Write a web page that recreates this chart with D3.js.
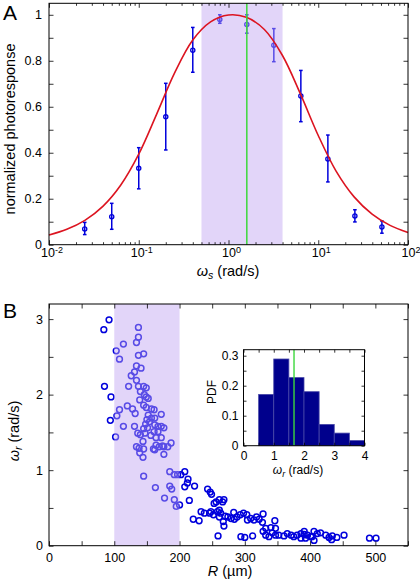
<!DOCTYPE html>
<html><head><meta charset="utf-8">
<script src="https://cdn.jsdelivr.net/npm/d3@7"></script>
<style>body{margin:0;background:#fff}svg{display:block}</style>
</head><body>
<svg id="c" width="420" height="584"></svg>
<script>
// ---------- Panel A data ----------
const omegaS = [0.025,0.05,0.1,0.2,0.4,0.8,1.6,3.2,6.4,12.8,25.6,51.2];
const respMean = [0.068,0.122,0.332,0.556,0.846,0.980,0.958,0.868,0.647,0.373,0.125,0.077];
const respLow  = [0.044,0.067,0.243,0.412,0.750,0.963,0.920,0.796,0.535,0.273,0.099,0.050];
const respHigh = [0.097,0.180,0.422,0.702,0.945,1.000,1.000,0.940,0.758,0.477,0.152,0.103];
const fitOmega = [0.01,0.0158,0.0251,0.0398,0.0631,0.1,0.158,0.251,0.398,0.631,1,1.58,2.51,3.98,6.31,10,15.8,25.1,39.8,63.1,100];
const fitResp  = [0.042,0.067,0.106,0.167,0.260,0.394,0.567,0.747,0.889,0.969,0.999,0.989,0.936,0.824,0.657,0.475,0.320,0.208,0.133,0.084,0.053];
const bandA = [0.5, 4];
const omegaLine = 1.6;
const xTickExpA = [-2,-1,0,1,2];

// ---------- Panel B data ----------
const radiusR = [84,92,85,95,94,
137,137,134,114,103,108,137,145,134,141,131,126,134,122,137,145,149,140,146,149,139,152,145,149,157,161,120,128,132,108,104,172,152,157,162,154,148,145,151,162,167,172,176,114,131,136,140,147,161,167,102,164,172,144,187,182,164,169,176,162,134,138,139,176,144,160,174,145,145,185,192,197,163,185,188,177,192,195,200,150,156,
202,208,213,212,208,223,215,243,247,249,221,230,233,238,246,248,253,256,261,266,268,252,258,263,270,274,261,261,267,268,259,279,284,288,293,298,303,304,309,314,318,322,328,294,300,312,332,328,332,337,342,347,346,340,347,352,360,365,371,375,380,386,391,396,401,391,406,411,416,424,429,433,434,441,452,491,501,386,393,403,406,283,327];
const omegaR = [2.86,2.99,2.11,1.97,1.66,
2.89,2.76,2.69,2.67,2.58,2.47,2.52,2.54,2.38,2.35,2.30,2.25,2.19,2.11,2.11,2.11,2.09,2.04,2.00,1.97,1.93,1.95,1.86,1.83,1.81,1.80,1.85,1.81,1.75,1.80,1.72,1.74,1.73,1.69,1.69,1.64,1.61,1.55,1.56,1.60,1.58,1.58,1.56,1.58,1.58,1.49,1.47,1.49,1.51,1.51,1.44,1.43,1.43,1.38,1.36,1.31,1.33,1.31,1.31,1.27,1.31,1.29,1.23,1.21,1.17,1.28,1.32,1.28,0.92,0.98,0.94,0.94,0.77,0.79,0.75,0.63,0.61,0.52,0.54,1.67,1.46,
0.94,0.98,0.88,0.83,0.78,0.79,0.60,0.75,0.71,0.68,0.35,0.33,0.45,0.43,0.43,0.45,0.56,0.58,0.61,0.58,0.61,0.41,0.45,0.43,0.39,0.38,0.47,0.38,0.32,0.26,0.13,0.36,0.35,0.38,0.41,0.43,0.41,0.34,0.36,0.34,0.38,0.35,0.42,0.12,0.11,0.13,0.23,0.19,0.14,0.12,0.17,0.14,0.33,0.24,0.23,0.14,0.13,0.16,0.14,0.12,0.14,0.16,0.15,0.14,0.12,0.19,0.19,0.16,0.17,0.14,0.11,0.08,0.13,0.11,0.14,0.10,0.10,0.10,0.10,0.12,0.07,0.44,0.31];
const bandB = [100, 200];

// ---------- Inset data ----------
const binStart = [0.5,1.0,1.5,2.0,2.5,3.0,3.5];
const binWidth = 0.5;
const pdfVals = [0.171,0.289,0.227,0.180,0.071,0.042,0.017];
const meanOmegaR = 1.67;

// ---------- Styles ----------
const FONT = '"Liberation Sans", Arial, Helvetica, sans-serif';
const BLUE = "#0000dc";
const SHADE = "rgb(192,164,241)";
const SHADE_OP = 0.46;
const RED = "#dc1420";
const GREEN = "#3cd83c";

const svg = d3.select("#c").attr("font-family", FONT);

function styleAxis(g, fs) {
  g.select(".domain").remove();
  g.selectAll(".tick line").attr("stroke", "#000").attr("stroke-width", 0.8);
  g.selectAll(".tick text").attr("font-family", FONT).attr("font-size", fs).attr("fill", "#000");
}
function frame(g, x0, x1, y0, y1) {
  g.append("rect").attr("x", x0).attr("y", y1).attr("width", x1 - x0).attr("height", y0 - y1)
    .attr("fill", "none").attr("stroke", "#000").attr("stroke-width", 1);
}

// ================= Panel A =================
const xA = d3.scaleLog().domain([0.01, 100]).range([49, 408]);
const yA = d3.scaleLinear().domain([0, 1.05]).range([244.7, 3.3]);
const gA = svg.append("g");

// error bars
const errG = gA.append("g").attr("stroke", BLUE).attr("stroke-width", 1.5).attr("fill", "none");
omegaS.forEach((w, i) => {
  const x = xA(w);
  errG.append("line").attr("x1", x).attr("x2", x).attr("y1", yA(respLow[i])).attr("y2", yA(respHigh[i]));
  errG.append("line").attr("x1", x - 1.8).attr("x2", x + 1.8).attr("y1", yA(respLow[i])).attr("y2", yA(respLow[i]));
  errG.append("line").attr("x1", x - 1.8).attr("x2", x + 1.8).attr("y1", yA(respHigh[i])).attr("y2", yA(respHigh[i]));
});
gA.append("g").selectAll("circle").data(omegaS).join("circle")
  .attr("cx", d => xA(d)).attr("cy", (d, i) => yA(respMean[i])).attr("r", 2.1)
  .attr("fill", "none").attr("stroke", BLUE).attr("stroke-width", 1.3);

// shaded band (over the markers)
gA.append("rect").attr("x", xA(bandA[0])).attr("width", xA(bandA[1]) - xA(bandA[0]))
  .attr("y", yA(1.05)).attr("height", yA(0) - yA(1.05)).attr("fill", SHADE).attr("opacity", SHADE_OP);

// fit curve
const fitPts = fitOmega.map((w, i) => [w, fitResp[i]]);
gA.append("path").datum(fitPts)
  .attr("d", d3.line().x(d => xA(d[0])).y(d => yA(d[1])).curve(d3.curveCatmullRom))
  .attr("fill", "none").attr("stroke", RED).attr("stroke-width", 1.6);

// green line
gA.append("line").attr("x1", xA(omegaLine)).attr("x2", xA(omegaLine))
  .attr("y1", yA(0)).attr("y2", yA(1.05)).attr("stroke", GREEN).attr("stroke-width", 1.5);

// axes A
const majorA = xTickExpA.map(e => Math.pow(10, e));
const minorA = [];
xTickExpA.slice(0, -1).forEach(e => { for (let k = 2; k <= 9; k++) minorA.push(k * Math.pow(10, e)); });
const yTicksA = d3.range(0, 11).map(i => i / 10);
const fmtA = d => (Math.round(d * 10) % 2 === 0) ? d3.format("~g")(d) : "";

gA.append("g").attr("transform", `translate(0,${yA(0)})`)
  .call(d3.axisBottom(xA).tickValues(majorA).tickSize(-4.5).tickSizeOuter(0).tickFormat("")).call(styleAxis, 12.5);
gA.append("g").attr("transform", `translate(0,${yA(0)})`)
  .call(d3.axisBottom(xA).tickValues(minorA).tickSize(-2.5).tickSizeOuter(0).tickFormat("")).call(styleAxis, 12.5);
gA.append("g").attr("transform", `translate(0,${yA(1.05)})`)
  .call(d3.axisTop(xA).tickValues(majorA).tickSize(-4.5).tickSizeOuter(0).tickFormat("")).call(styleAxis, 12.5);
gA.append("g").attr("transform", `translate(0,${yA(1.05)})`)
  .call(d3.axisTop(xA).tickValues(minorA).tickSize(-2.5).tickSizeOuter(0).tickFormat("")).call(styleAxis, 12.5);
gA.append("g").attr("transform", `translate(${xA(0.01)},0)`)
  .call(d3.axisLeft(yA).tickValues(yTicksA).tickSize(-4.5).tickSizeOuter(0).tickPadding(7).tickFormat(fmtA)).call(styleAxis, 12.5);
gA.append("g").attr("transform", `translate(${xA(100)},0)`)
  .call(d3.axisRight(yA).tickValues(yTicksA).tickSize(-4.5).tickSizeOuter(0).tickFormat("")).call(styleAxis, 12.5);
frame(gA, xA(0.01), xA(100), yA(0), yA(1.05));

// log tick labels 10^n
xTickExpA.forEach(e => {
  const t = gA.append("text").attr("x", xA(Math.pow(10, e)) + 3).attr("y", 257)
    .attr("text-anchor", "middle").attr("font-size", 12.5).attr("fill", "#000");
  t.append("tspan").text("10");
  t.append("tspan").attr("dy", -4).attr("font-size", 9).text(String(e));
});

// titles A
const tA = gA.append("text").attr("x", 228).attr("y", 276).attr("text-anchor", "middle").attr("font-size", 14.5);
tA.append("tspan").attr("font-style", "italic").text("ω");
tA.append("tspan").attr("font-style", "italic").attr("font-size", 10.5).attr("dy", 3).text("s");
tA.append("tspan").attr("dy", -3).text(" (rad/s)");
gA.append("text").attr("transform", "translate(15,129) rotate(-90)").attr("text-anchor", "middle")
  .attr("font-size", 14.5).text("normalized photoresponse");
svg.append("text").attr("x", 3).attr("y", 20).attr("font-size", 21).text("A");

// ================= Panel B =================
const xB = d3.scaleLinear().domain([0, 550]).range([49, 408]);
const yB = d3.scaleLinear().domain([0, 3.2]).range([545.7, 304]);
const gB = svg.append("g");

gB.append("g").selectAll("circle").data(radiusR).join("circle")
  .attr("cx", d => xB(d)).attr("cy", (d, i) => yB(omegaR[i])).attr("r", 2.9)
  .attr("fill", "none").attr("stroke", BLUE).attr("stroke-width", 1.5);

gB.append("rect").attr("x", xB(bandB[0])).attr("width", xB(bandB[1]) - xB(bandB[0]))
  .attr("y", yB(3.2)).attr("height", yB(0) - yB(3.2)).attr("fill", SHADE).attr("opacity", SHADE_OP);

const xTicksB = d3.range(0, 551, 50);
const yTicksB = d3.range(0, 3.01, 0.5);
gB.append("g").attr("transform", `translate(0,${yB(0)})`)
  .call(d3.axisBottom(xB).tickValues(xTicksB).tickSize(-4.5).tickSizeOuter(0).tickPadding(7)
    .tickFormat(d => d % 100 === 0 ? d : "")).call(styleAxis, 12.5);
gB.append("g").attr("transform", `translate(0,${yB(3.2)})`)
  .call(d3.axisTop(xB).tickValues(xTicksB).tickSize(-4.5).tickSizeOuter(0).tickFormat("")).call(styleAxis, 12.5);
gB.append("g").attr("transform", `translate(${xB(0)},0)`)
  .call(d3.axisLeft(yB).tickValues(yTicksB).tickSize(-4.5).tickSizeOuter(0).tickPadding(6)
    .tickFormat(d => Number.isInteger(d) ? d : "")).call(styleAxis, 12.5);
gB.append("g").attr("transform", `translate(${xB(550)},0)`)
  .call(d3.axisRight(yB).tickValues(yTicksB).tickSize(-4.5).tickSizeOuter(0).tickFormat("")).call(styleAxis, 12.5);
frame(gB, xB(0), xB(550), yB(0), yB(3.2));

const tBx = gB.append("text").attr("x", 230).attr("y", 576).attr("text-anchor", "middle").attr("font-size", 14.5);
tBx.append("tspan").attr("font-style", "italic").text("R");
tBx.append("tspan").text(" (µm)");
const tBy = gB.append("text").attr("transform", "translate(19,431) rotate(-90)").attr("text-anchor", "middle").attr("font-size", 14.5);
tBy.append("tspan").attr("font-style", "italic").text("ω");
tBy.append("tspan").attr("font-style", "italic").attr("font-size", 10.5).attr("dy", 3).text("r");
tBy.append("tspan").attr("dy", -3).text(" (rad/s)");
svg.append("text").attr("x", 3).attr("y", 318).attr("font-size", 21).text("B");

// ================= Inset =================
const xI = d3.scaleLinear().domain([0, 4]).range([243.5, 364.5]);
const yI = d3.scaleLinear().domain([0, 0.32]).range([445.7, 349.7]);
const gI = svg.append("g");
gI.append("rect").attr("x", xI(0)).attr("y", yI(0.32)).attr("width", xI(4) - xI(0)).attr("height", yI(0) - yI(0.32)).attr("fill", "#fff");
gI.append("g").selectAll("rect").data(binStart).join("rect")
  .attr("x", d => xI(d)).attr("width", d => xI(d + binWidth) - xI(d))
  .attr("y", (d, i) => yI(pdfVals[i])).attr("height", (d, i) => yI(0) - yI(pdfVals[i]))
  .attr("fill", "#00008c").attr("stroke", "#4848a8").attr("stroke-width", 0.8);
gI.append("line").attr("x1", xI(meanOmegaR)).attr("x2", xI(meanOmegaR)).attr("y1", yI(0)).attr("y2", yI(0.32))
  .attr("stroke", GREEN).attr("stroke-width", 1.4);

const xTicksI = d3.range(0, 4.01, 0.5);
const yTicksI = d3.range(0, 0.301, 0.05);
gI.append("g").attr("transform", `translate(0,${yI(0)})`)
  .call(d3.axisBottom(xI).tickValues(xTicksI).tickSize(-3).tickSizeOuter(0).tickPadding(6)
    .tickFormat(d => Number.isInteger(d) ? d : "")).call(styleAxis, 12);
gI.append("g").attr("transform", `translate(0,${yI(0.32)})`)
  .call(d3.axisTop(xI).tickValues(xTicksI).tickSize(-3).tickSizeOuter(0).tickFormat("")).call(styleAxis, 12);
gI.append("g").attr("transform", `translate(${xI(0)},0)`)
  .call(d3.axisLeft(yI).tickValues(yTicksI).tickSize(-3).tickSizeOuter(0).tickPadding(5)
    .tickFormat(d => (Math.round(d * 100) % 10 === 0) ? d3.format("~g")(Math.round(d * 10) / 10) : "")).call(styleAxis, 12);
gI.append("g").attr("transform", `translate(${xI(4)},0)`)
  .call(d3.axisRight(yI).tickValues(yTicksI).tickSize(-3).tickSizeOuter(0).tickFormat("")).call(styleAxis, 12);
frame(gI, xI(0), xI(4), yI(0), yI(0.32));

const tIx = gI.append("text").attr("x", 298).attr("y", 474).attr("text-anchor", "middle").attr("font-size", 12);
tIx.append("tspan").attr("font-style", "italic").text("ω");
tIx.append("tspan").attr("font-style", "italic").attr("font-size", 9).attr("dy", 2.5).text("r");
tIx.append("tspan").attr("dy", -2.5).text(" (rad/s)");
gI.append("text").attr("transform", "translate(216,392) rotate(-90)").attr("text-anchor", "middle")
  .attr("font-size", 12).text("PDF");
</script>
</body></html>
